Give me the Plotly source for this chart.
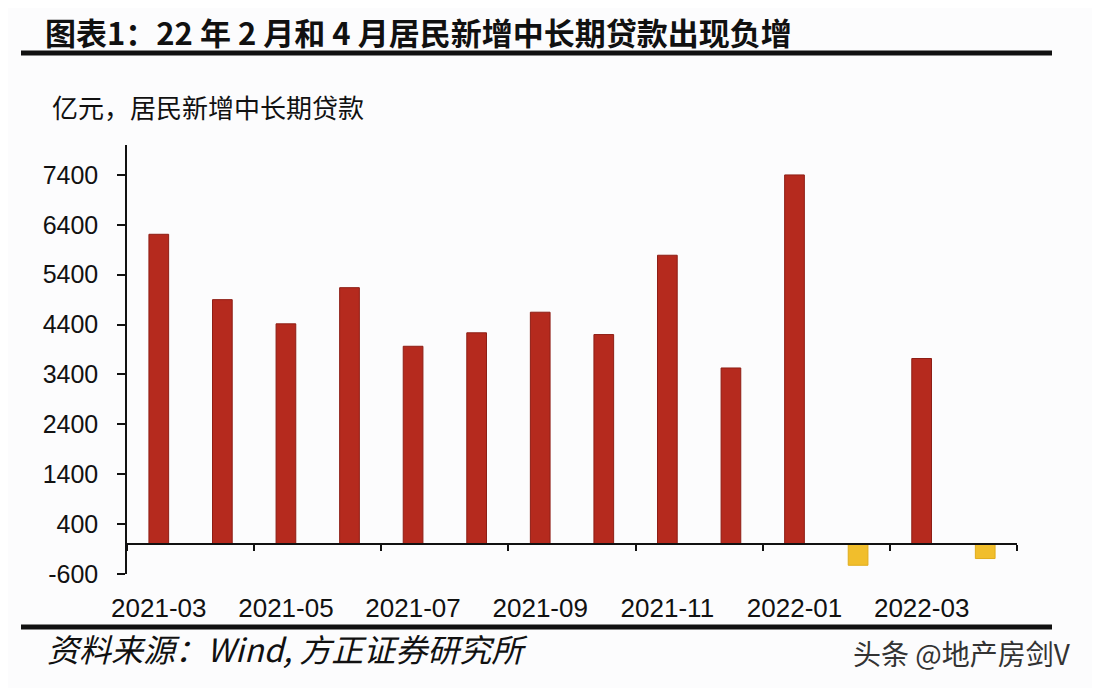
import plotly.graph_objects as go

# ---- data ----
months = ["2021-03", "2021-04", "2021-05", "2021-06", "2021-07", "2021-08", "2021-09",
          "2021-10", "2021-11", "2021-12", "2022-01", "2022-02", "2022-03", "2022-04"]
loans = [6210, 4900, 4415, 5140, 3965, 4235, 4648, 4200, 5790, 3530, 7400, -425, 3720, -290]
y_ticks = [-600, 400, 1400, 2400, 3400, 4400, 5400, 6400, 7400]
label_months = ["2021-03", "2021-05", "2021-07", "2021-09", "2021-11", "2022-01", "2022-03"]

title_text = "图表1：22 年 2 月和 4 月居民新增中长期贷款出现负增"
unit_text = "亿元，居民新增中长期贷款"
source_text = "资料来源：Wind, 方正证券研究所"
mark_text = "头条 @地产房剑V"

W, H = 1100, 688
OFF = 8  # page body margin offset
L, R, T, B = 127 - OFF, 1100 - 1017 + OFF, 145 - OFF, 688 - 574 + OFF
PW, PH = W - L - R, H - T - B
Y_MIN, Y_MAX = -600, 8000

def px(x):
    return (x - OFF - L) / PW

def py(y):
    return (H - B - (y - OFF)) / PH

RED = "#B52A1E"
RED_EDGE = "#8E1E15"
YELLOW = "#F1BE2C"
YELLOW_EDGE = "#E0AC1C"

xs = list(range(len(months)))
colors = [RED if v >= 0 else YELLOW for v in loans]
edges = [RED_EDGE if v >= 0 else YELLOW_EDGE for v in loans]

fig = go.Figure()
fig.add_trace(go.Bar(
    x=xs, y=loans, width=0.31,
    marker=dict(color=colors, line=dict(color=edges, width=1)),
    hovertext=months, showlegend=False,
))
# empty trace to hold the zero-line tick axis
fig.add_trace(go.Scatter(x=[], y=[], xaxis="x2", showlegend=False))

label_pos = [months.index(m) for m in label_months]
boundaries = [i - 0.5 for i in range(0, len(months) + 1, 2)]

num_font = dict(family="Liberation Sans, Arial, sans-serif", size=25, color="#111111")
x_font = dict(family="Liberation Sans, Arial, sans-serif", size=26, color="#111111")
cjk = "Noto Sans CJK SC, sans-serif"

fig.update_layout(
    width=W, height=H,
    margin=dict(l=L, r=R, t=T, b=B),
    paper_bgcolor="#FCFCFD", plot_bgcolor="#FCFCFD",
    xaxis=dict(
        range=[-0.5, len(months) - 0.5],
        tickmode="array", tickvals=label_pos, ticktext=label_months,
        showline=False, showgrid=False, zeroline=False, ticks="",
        tickfont=x_font, ticklabelstandoff=16,
    ),
    xaxis2=dict(
        overlaying="x", anchor="free", position=(0 - Y_MIN) / (Y_MAX - Y_MIN),
        range=[-0.5, len(months) - 0.5],
        tickmode="array", tickvals=boundaries, showticklabels=False,
        ticks="outside", ticklen=6, tickwidth=1.5, tickcolor="#111111",
        showline=True, linecolor="#111111", linewidth=1.5,
        showgrid=False, zeroline=False,
    ),
    yaxis=dict(
        range=[Y_MIN, Y_MAX],
        tickmode="array", tickvals=y_ticks, ticktext=[str(v) for v in y_ticks],
        showline=True, linecolor="#111111", linewidth=1.5,
        ticks="outside", ticklen=8, tickwidth=1.5, tickcolor="#111111",
        showgrid=False, zeroline=False,
        tickfont=num_font, ticklabelstandoff=14,
    ),
    title=dict(
        text=title_text, xref="container", yref="container",
        x=(45 - OFF) / W, y=1 - (34.5 - OFF) / H, xanchor="left", yanchor="middle",
        font=dict(family=cjk, size=31, color="#111111", weight=600),
    ),
    shapes=[
        dict(type="line", xref="paper", yref="paper", x0=px(21), x1=px(1052),
             y0=py(53), y1=py(53), line=dict(color="#111111", width=5)),
        dict(type="line", xref="paper", yref="paper", x0=px(21), x1=px(1052),
             y0=py(627), y1=py(627), line=dict(color="#111111", width=5)),
    ],
    annotations=[
        dict(text=unit_text, xref="paper", yref="paper", x=px(50), y=py(106),
             xanchor="left", yanchor="middle", showarrow=False,
             font=dict(family=cjk, size=26, color="#111111")),
        dict(text="<i>" + source_text + "</i>", xref="paper", yref="paper", x=px(45), y=py(648),
             xanchor="left", yanchor="middle", showarrow=False,
             font=dict(family=cjk, size=32, color="#111111")),
        dict(text=mark_text, xref="paper", yref="paper", x=px(1073), y=py(653),
             xanchor="right", yanchor="middle", showarrow=False,
             font=dict(family=cjk, size=28, color="#333333")),
    ],
)

fig.write_html("out.html")
